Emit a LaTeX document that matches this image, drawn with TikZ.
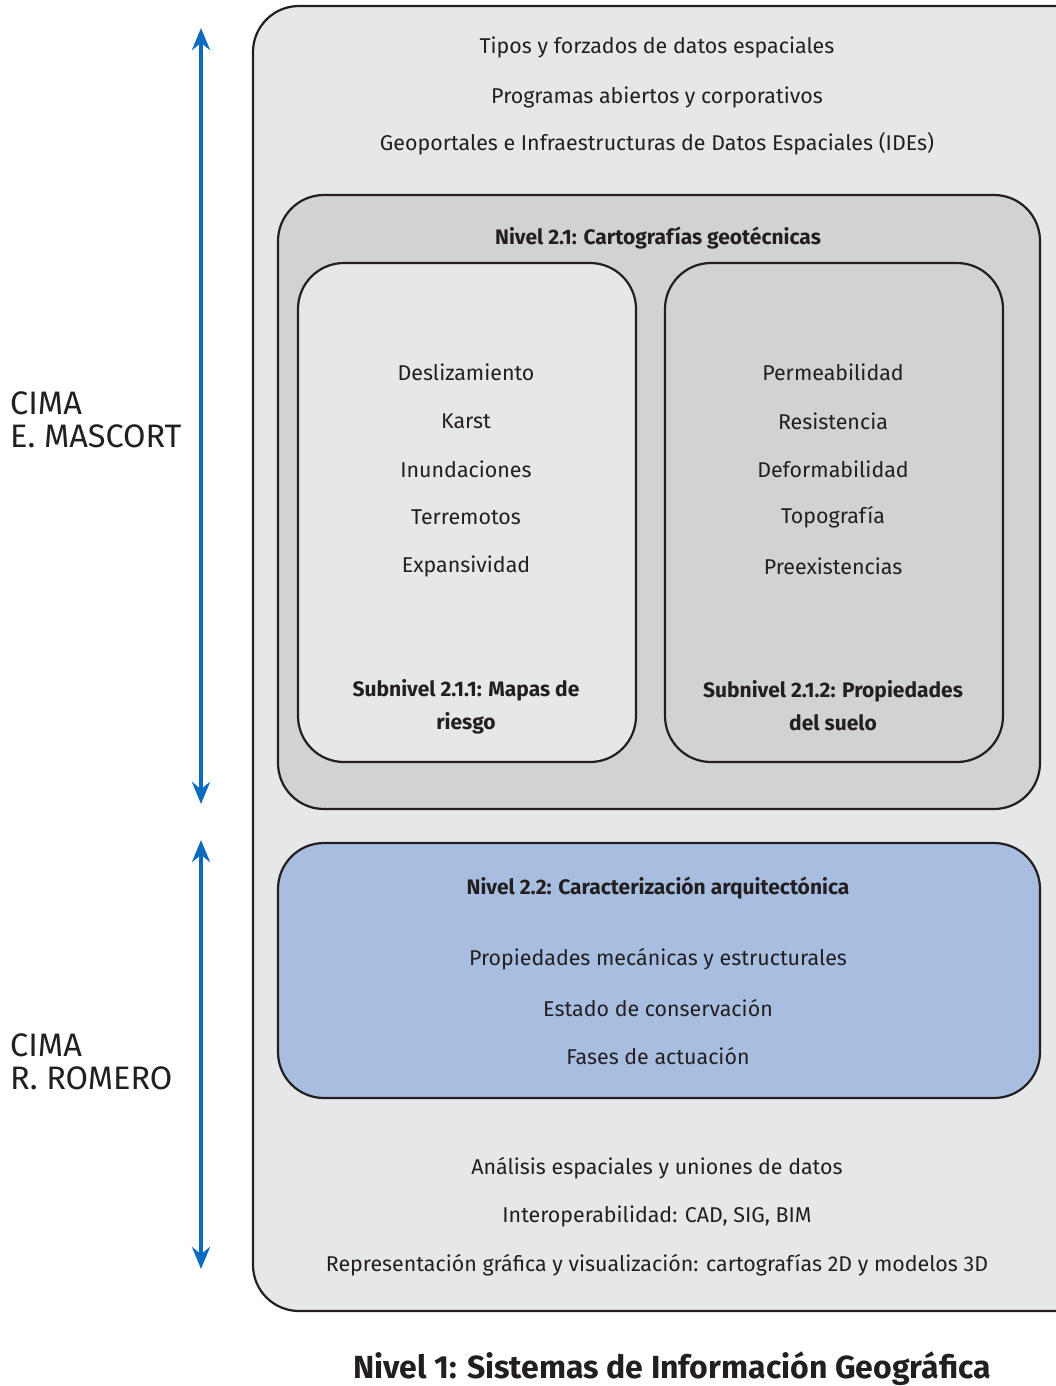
\documentclass[tikz,border=0pt]{standalone}
\usepackage{fontspec}
\setmainfont{Fira Sans}
\usetikzlibrary{arrows.meta}
\definecolor{ink}{HTML}{231F20}
\definecolor{lgray}{HTML}{E6E7E9}
\definecolor{mgray}{HTML}{D1D2D4}
\definecolor{lblue}{HTML}{A8BEE0}
\definecolor{arrblue}{HTML}{0A6BBF}
\tikzset{
  panel/.style={draw=ink, line width=2.2pt, rounded corners=46pt},
  txt/.style={text=ink, font=\fontsize{21.4}{25}\selectfont, inner sep=0pt, anchor=center},
  ttl/.style={text=ink, font=\fontsize{21}{33}\selectfont\bfseries, inner sep=0pt, align=center, anchor=center},
  side/.style={text=ink, font=\fontsize{32.5}{33}\selectfont, inner sep=0pt, align=left, anchor=north west},
  span/.style={draw=arrblue, line width=4pt, {Stealth[length=22pt,width=18pt]}-{Stealth[length=22pt,width=18pt]}},
}
\begin{document}
\begin{tikzpicture}[x=1pt,y=-1pt]
\useasboundingbox (0,0) rectangle (1056,1386);
\begin{scope}
\clip (0,0) rectangle (1056,1386);
\draw[panel, fill=lgray] (253,6) rectangle (1100,1311);
\end{scope}
\node[txt] (t1) at (657,47) {Tipos y forzados de datos espaciales};
\node[txt] (t2) at (657,97) {Programas abiertos y corporativos};
\node[txt] (t3) at (657,144) {Geoportales e Infraestructuras de Datos Espaciales (IDEs)};

\draw[panel, fill=mgray] (278,195) rectangle (1040,809);
\node[ttl] (n21) at (658,238) {Nivel 2.1: Cartografías geotécnicas};

\draw[panel, fill=lgray] (298,263) rectangle (636,762);
\draw[panel, fill=mgray] (665,263) rectangle (1003,762);

\node[txt] (a1) at (466,372) {Deslizamiento};
\node[txt] (a2) at (466,421) {Karst};
\node[txt] (a3) at (466,469) {Inundaciones};
\node[txt] (a4) at (466,517) {Terremotos};
\node[txt] (a5) at (466,566) {Expansividad};
\node[ttl] (s1) at (466,707) {Subnivel 2.1.1: Mapas de\\riesgo};

\node[txt] (b1) at (833,372) {Permeabilidad};
\node[txt] (b2) at (833,421) {Resistencia};
\node[txt] (b3) at (833,469) {Deformabilidad};
\node[txt] (b4) at (833,517) {Topografía};
\node[txt] (b5) at (833,566) {Preexistencias};
\node[ttl] (s2) at (833,706) {Subnivel 2.1.2: Propiedades\\del suelo};

\draw[panel, fill=lblue] (278,843) rectangle (1040,1098);
\node[ttl] (n22) at (658,888) {Nivel 2.2: Caracterización arquitectónica};
\node[txt] (c1) at (658,959) {Propiedades mecánicas y estructurales};
\node[txt] (c2) at (658,1008) {Estado de conservación};
\node[txt] (c3) at (658,1056) {Fases de actuación};

\node[txt] (d1) at (657,1168) {Análisis espaciales y uniones de datos};
\node[txt] (d2) at (657,1216) {Interoperabilidad: CAD, SIG, BIM};
\node[txt] (d3) at (657,1265) {Representación gráfica y visualización: cartografías 2D y modelos 3D};

\node[text=ink, font=\fontsize{32}{36}\selectfont\bfseries, inner sep=0pt] (n1) at (672,1369) {Nivel 1: Sistemas de Información Geográfica};

\coordinate (u1) at (201,28);
\coordinate (u2) at (201,804);
\coordinate (v1) at (201,840);
\coordinate (v2) at (201,1269);
\draw[span] (u1) -- (u2);
\draw[span] (v1) -- (v2);

\node[side] (m) at (10,392) {CIMA\\E. MASCORT};
\node[side] (r) at (10,1034) {CIMA\\R. ROMERO};
\end{tikzpicture}
\end{document}
